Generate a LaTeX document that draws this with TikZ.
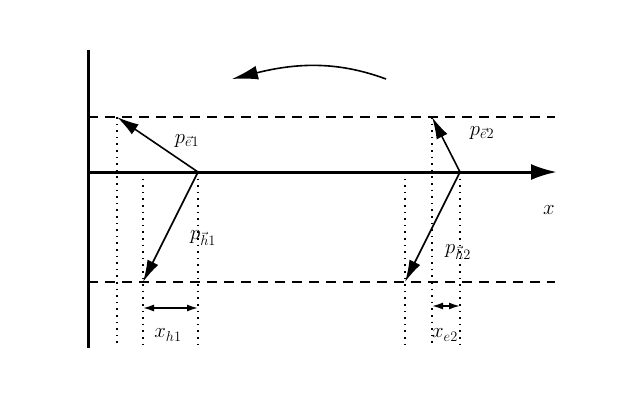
\documentclass[tikz,border=0pt]{standalone}
\usetikzlibrary{arrows.meta}
\begin{document}
\begin{tikzpicture}[x=1pt,y=-1pt,
  ax/.style={line width=3pt},
  dsh/.style={dash pattern=on 10pt off 7pt,line width=1.4pt},
  dot/.style={dash pattern=on 1.6pt off 5pt,line width=1.6pt},
  vec/.style={line width=1.6pt,-{Latex[length=22pt,width=12pt]}},
  dim/.style={line width=1.6pt,{Latex[length=11pt,width=7pt]}-{Latex[length=11pt,width=7pt]}},
  lab/.style={font=\fontsize{21}{24}\selectfont}]
\useasboundingbox (0,0) rectangle (640,400);
\begin{scope}
\clip (0,50) rectangle (640,400);
\node[lab] (ylab) at (125,40) {$y$};
\node[lab] (elab) at (322,40) {$E$};
\end{scope}
\coordinate (o1) at (198,172); \coordinate (e1) at (117,117); \coordinate (h1) at (143,282);
\coordinate (o2) at (460,172); \coordinate (e2) at (432,117); \coordinate (h2) at (405,282);
\draw[dsh] (88,117) -- (555,117);
\draw[dsh] (88,282) -- (555,282);
\draw[dot] (117,117) -- (117,345);
\draw[dot] (143,172) -- (143,345);
\draw[dot] (198,172) -- (198,345);
\draw[dot] (405,172) -- (405,345);
\draw[dot] (432,117) -- (432,345);
\draw[dot] (460,172) -- (460,345);
\draw[ax] (88,50) -- (88,348);
\draw[ax,-{Latex[length=26pt,width=16pt]}] (88,172) -- (557,172);
\draw[vec] (o1) -- (e1);
\draw[vec] (o1) -- (h1);
\draw[vec] (o2) -- (e2);
\draw[vec] (o2) -- (h2);
\coordinate (c1) at (386,79); \coordinate (c2) at (232,79);
\draw[line width=1.6pt,-{Latex[length=26pt,width=14pt]}] (c1) .. controls (340,62) and (300,62) .. (c2);
\coordinate (d1) at (143,308); \coordinate (d2) at (198,308);
\coordinate (d3) at (432,306); \coordinate (d4) at (460,306);
\draw[dim] (d1) -- (d2);
\draw[dim] (d3) -- (d4);
\node[lab] (pe1) at (187,141) {$p_{\vec{e}1}$};
\node[lab] (pe2) at (482,133) {$p_{\vec{e}2}$};
\node[lab] (ph1) at (203,238) {$p_{\vec{h}1}$};
\node[lab] (ph2) at (458,252) {$p_{\vec{h}2}$};
\node[lab] (xl) at (549,210) {$x$};
\node[lab] (xh1) at (168,335) {$x_{h1}$};
\node[lab] (xe2) at (445,335) {$x_{e2}$};
\end{tikzpicture}
\end{document}
